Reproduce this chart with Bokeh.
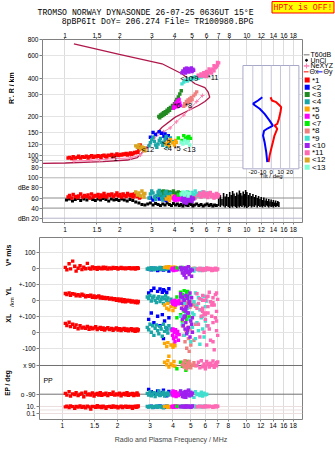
import numpy as np
from bokeh.plotting import figure
from bokeh.layouts import column, row
from bokeh.models import (ColumnDataSource, CustomJSTickFormatter, FixedTicker,
                          Label, LinearScale, LogAxis, LogScale, Range1d, Span)
from bokeh.embed import file_html
from bokeh.resources import INLINE

# ---------------------------------------------------------------- ticks
freq_ticks = [1, 1.5, 2, 3, 4, 5, 6, 7, 8, 10, 12, 14, 16, 18]
height_ticks = [80, 90, 100, 120, 150, 200, 300, 400, 600, 800]
dbe_ticks = [100, 80, 60, 40, 20]
dbe_tick_labels = ["100", "dBe 80", "60", "40", "dBn 20"]
xl_ticks = [-100, 0, 100, 200, 300, 400, 500]
xl_tick_labels = ["-100", "0", "+-100", "0", "+-100", "0", "100"]
pp_ticks = [90, -90]
pp_tick_labels = ["x 90", "o -90"]
ep_ticks = [10, 0.1]
ep_tick_labels = ["10.", "0.1"]
tilt_ticks = [-20, -10, 0, 10, 20]

# ---------------------------------------------------------------- echo groups
group_names = ["*1", "<2", "<3", "<4", "*5", "*6", "<7", "*8", "*9", "<10", "*11", "<12", "<13"]
group_colors = ["#ff0000", "#0000ff", "#228b22", "#1aa6a6", "#ffa500", "#ff00ff", "#00ee00",
                "#f08080", "#40e0d0", "#a020f0", "#ff69b4", "#daa520", "#7fffd4"]

# group *1 (E-region O trace)
e1_f = [1.04, 1.06, 1.09, 1.11, 1.14, 1.17, 1.19, 1.22, 1.25, 1.28, 1.31, 1.34, 1.37, 1.40, 1.43, 1.46,
        1.49, 1.52, 1.55, 1.58, 1.61, 1.64, 1.67, 1.70, 1.73, 1.77, 1.81, 1.85, 1.89, 1.93, 1.97, 2.01,
        2.05, 2.09, 2.13, 2.17, 2.21, 2.25, 2.29, 2.33, 2.37, 2.41, 2.45, 2.49, 2.52, 2.55, 2.57, 2.59]
e1_h = [95, 96, 94, 97, 95, 96, 98, 95, 97, 96, 98, 95, 97, 99, 96, 98, 97, 99, 98, 96, 99, 100, 98, 97,
        100, 99, 101, 98, 100, 102, 99, 101, 100, 102, 101, 103, 100, 102, 104, 101, 103, 105, 104, 106,
        105, 110, 114, 120]
e1_db = [62, 65, 60, 67, 63, 61, 64, 68, 62, 65, 63, 66, 60, 68, 62, 65, 64, 67, 61, 66, 63, 69, 64, 62,
         67, 65, 68, 63, 66, 70, 64, 67, 62, 68, 65, 63, 69, 66, 64, 67, 62, 68, 65, 63, 66, 64, 60, 62]
e1_v = [5, -10, 28, -4, 44, 12, -18, 0, 15, -8, 6, -3, 30, 0, -6, 8, -2, 3, -7, 5, 0, -4, 7, -2,
        4, -6, 2, -3, 5, -1, 3, -5, 0, 4, -2, 1, -4, 2, -1, 3, -3, 0, 2, -5, 1, -2, 3, -1]
e1_yl = [42, 36, 46, 30, 40, 38, 28, 34, 26, 37, 31, 22, 28, 24, 32, 18, 26, 16, 22, 27, 14, 20, 12, 17,
         10, 15, 7, 12, 4, 10, 0, 8, -4, 6, -8, 3, -10, 0, -6, -2, -12, -4, -9, -14, -6, -10, -16, -8]
e1_xl = [55, 42, 62, 36, 50, 30, 46, 22, 40, 26, 32, 24, 36, 18, 30, 22, 26, 34, 16, 24, 30, 18, 26, 14,
         22, 28, 16, 24, 12, 20, 26, 14, 22, 10, 18, 24, 12, 20, 8, 16, 22, 10, 18, 6, 14, 20, 9, 15]
e1_pp = [-85, -96, -74, -102, -88, -92, -80, -98, -90, -84, -106, -78, -93, -88, -96, -82, -101, -90,
         -86, -95, -80, -97, -89, -92, -84, -99, -87, -91, -77, -96, -88, -93, -83, -100, -90, -86,
         -94, -81, -97, -89, -92, -85, -99, -88, -94, -82, -90, -96]
e1_ep = [8, 12, 5, 15, 9, 3, 11, 7, 14, 6, 10, 4, 13, 8, 2, 11, 9, 6, 16, 7, 10, 5, 12, 8,
         3, 9, 11, 6, 14, 7, 10, 4, 8, 12, 5, 9, 13, 6, 10, 7, 11, 3, 9, 12, 6, 10, 8, 14]

# group <2
e2_f = [2.95, 3.05, 3.15, 3.3, 3.4, 3.5, 3.55, 3.6, 3.7, 3.8]
e2_h = [138, 150, 145, 152, 148, 140, 146, 135, 142, 130]
e2_db = [60, 56, 62, 58, 64, 57, 61, 55, 59, 63]
e2_v = [-5, -10, 0, -15, -8, 3, -12, -3, -6, -18]
e2_yl = [45, 60, 75, 55, 70, 50, 65, 58, 48, 72]
e2_xl = [80, 120, 60, 100, 40, 110, -40, 70, 20, 90]
e2_pp = [-60, -75, -85, -70, -95, -80, -65, -90, -100, -72]
e2_ep = [9, 12, 7, 10, 14, 8, 11, 6, 13, 9]

# group <3
e3_f = [3.28, 3.32, 3.35, 3.38, 3.42, 3.45, 3.48, 3.52, 3.56, 3.6, 3.64, 3.68, 3.72, 3.76, 3.8, 3.85,
        3.9, 3.95, 4.0, 4.06, 4.12, 4.2, 4.28, 4.36]
e3_h = [200, 196, 206, 201, 210, 204, 214, 208, 218, 212, 224, 218, 230, 224, 236, 232, 244, 240, 252,
        262, 272, 285, 300, 318]
e3_db = [70, 66, 73, 68, 72, 65, 74, 69, 71, 67, 73, 70, 68, 72, 66, 69, 71, 74, 67, 70, 65, 72, 68, 70]

# group <4
e4_f = [2.9, 2.95, 3.0, 3.05, 3.1, 3.15, 3.2, 3.25, 3.3, 3.35, 3.4, 3.45, 3.5, 3.55, 3.6, 3.65, 3.7,
        3.75, 3.8, 3.9]
e4_h = [118, 125, 132, 138, 128, 120, 115, 122, 130, 135, 126, 119, 124, 133, 140, 116, 121, 128, 136, 127]
e4_db = [60, 68, 74, 70, 62, 57, 65, 72, 75, 68, 60, 56, 63, 70, 73, 66, 58, 62, 69, 64]
e4_v = [-5, 0, -8, 3, -3, -10, 2, -6, 0, -4, 5, -7, 1, -2, -9, 4, -5, -1, 3, -3]
e4_yl = [20, 10, 30, -5, 15, 25, 0, -15, 12, 22, -8, 5, 18, -20, 8, 28, -2, 14, -12, 6]
e4_xl = [30, 15, 50, 0, 40, -20, 25, 45, 10, -10, 35, 20, -25, 50, 5, 30, 15, -5, 40, 20]
e4_pp = [-85, -95, -75, -100, -90, -80, -105, -88, -92, -70, -98, -84, -90, -78, -102, -86, -94, -82, -96, -88]
e4_ep = [10, 7, 13, 9, 5, 11, 8, 14, 6, 10, 12, 7, 9, 4, 11, 8, 13, 10, 6, 9]

# group *5
e5_f = [3.6, 3.7, 3.75, 3.8, 3.9, 4.0, 4.05, 4.1]
e5_h = [122, 128, 118, 132, 125, 120, 130, 126]
e5_db = [58, 62, 55, 60, 64, 57, 61, 59]
e5_v = [5, 8, 2, 10, 4, 6, 0, 7]
e5_yl = [-30, -50, -20, -60, -40, -65, -35, -45]
e5_xl = [-70, -90, -65, -150, -80, -95, -75, -85]
e5_pp = [110, 95, 120, 80, 100, 90, 115, 85]
e5_ep = [9, 12, 6, 10, 8, 11, 7, 13]

# group *6
e6_f = [3.95, 3.98, 4.0, 4.03, 4.06, 4.1, 4.13, 4.16, 4.2, 4.24, 4.28, 4.32]
e6_h = [232, 240, 236, 250, 245, 258, 238, 265, 248, 272, 255, 244]
e6_db = [60, 57, 63, 55, 61, 58, 64, 56, 62, 59, 57, 60]
e6_v = [-5, -10, 0, -15, -3, -8, 2, -12, -6, -2, -9, -4]
e6_yl = [-10, -20, -5, -25, -15, 0, -30, -12, -18, -8, -22, -3]
e6_xl = [10, -20, 20, -40, 0, -60, 15, -30, -10, 5, -50, -15]
e6_pp = [-80, -95, -70, -100, -88, -92, -75, -105, -85, -90, -98, -82]
e6_ep = [10, 8, 12, 6, 11, 9, 14, 7, 10, 13, 8, 11]

# group <7
e7_f = [4.2, 4.4, 4.5, 4.6, 4.7, 4.75, 4.8, 4.9]
e7_h = [136, 130, 142, 134, 138, 131, 140, 135]
e7_db = [66, 70, 62, 68, 64, 71, 65, 67]
e7_v = [2, -4, 5, -2, 0, 3, -6, 1]
e7_yl = [20, 50, 35, 60, 25, 45, 55, 30]
e7_xl = [90, 110, 70, 130, 100, 80, 120, 95]
e7_pp = [70, 110, 85, 100, 60, 95, 115, 80]
e7_ep = [12, 9, 14, 10, 7, 11, 13, 8]

# group *8
e8_f = [4.5, 4.55, 4.6, 4.65, 4.7, 4.75, 4.8, 4.85, 4.9, 4.95, 5.0, 5.1, 5.2, 5.3]
e8_h = [240, 252, 246, 262, 255, 270, 258, 275, 265, 282, 272, 290, 300, 312]
e8_db = [64, 60, 67, 58, 62, 65, 59, 63, 61, 66, 57, 62, 60, 64]
e8_v = [-5, -25, 0, -10, -30, 5, -8, -15, 2, -20, -3, -12, 0, -6]
e8_yl = [-10, -30, -5, -40, -20, -15, -35, 0, -25, -45, -8, -28, -18, -38]
e8_xl = [40, -20, 60, -60, 10, -100, 30, -40, -120, 20, -80, 0, -50, 50]
e8_pp = [95, 110, 80, 120, 90, 70, 105, 85, 115, 100, 75, 92, 108, 88]
e8_ep = [11, 8, 13, 9, 12, 7, 10, 14, 9, 11, 6, 12, 10, 8]

# group *9
e9_f = [4.4, 4.5, 4.6, 4.7, 4.8, 4.9, 5.0, 5.1, 5.2, 5.3, 5.4, 5.5, 5.6, 5.7, 5.8, 5.9, 6.0, 6.1]
e9_h = [360, 372, 385, 378, 395, 388, 402, 395, 410, 404, 398, 415, 408, 420, 412, 425, 418, 430]
e9_db = [66, 70, 63, 72, 68, 65, 71, 67, 74, 69, 64, 70, 66, 72, 68, 65, 70, 67]
e9_v = [-5, -10, 0, -15, -8, -3, -12, -6, -18, -2, -9, -4, -14, -7, -1, -11, -5, -8]
e9_yl = [40, 10, -20, 30, -50, 0, 20, -80, -10, 45, -30, 15, -60, 5, -100, 25, -40, -5]
e9_xl = [100, 50, -20, 120, 0, 80, -60, 30, 110, -40, 60, 10, -75, 90, 20, -30, 70, 40]
e9_pp = [-70, -90, -105, -80, -95, -65, -100, -85, -110, -75, -92, -88, -98, -78, -102, -83, -94, -90]
e9_ep = [10, 13, 7, 11, 9, 12, 6, 10, 14, 8, 11, 9, 12, 7, 10, 13, 8, 11]

# group <10
e10_f = [4.4, 4.45, 4.5, 4.55, 4.6, 4.65, 4.7, 4.75, 4.8, 4.85, 4.9, 4.95, 5.0, 5.05, 5.1, 4.6, 4.7, 4.8]
e10_h = [440, 455, 448, 470, 462, 478, 452, 466, 445, 472, 458, 480, 450, 468, 460, 438, 475, 465]
e10_db = [55, 60, 52, 58, 63, 50, 57, 61, 54, 59, 62, 56, 53, 60, 58, 51, 64, 55]
e10_v = [5, -10, -30, 0, -45, -15, -60, -5, -25, 10, -40, -20, -8, -50, -12, -35, 2, -18]
e10_yl = [40, -20, 20, -60, 0, -100, 30, -40, 10, -80, -10, 45, -30, 15, -110, 5, -50, 25]
e10_xl = [220, 150, 80, 40, 100, 20, 60, -10, 120, 30, 180, -30, 70, 50, 0, 90, 130, 10]
e10_pp = [-70, -90, -105, -80, -95, -75, -110, -85, -92, -65, -100, -88, -78, -96, -83, -108, -72, -90]
e10_ep = [10, 8, 12, 9, 11, 7, 13, 10, 8, 12, 9, 11, 6, 10, 14, 8, 12, 9]

# group *11
e11_f = [5.4, 5.5, 5.6, 5.7, 5.8, 5.9, 6.0, 6.1, 6.2, 6.3, 6.4, 6.5, 6.6, 6.7, 6.8, 6.9, 7.0, 5.8,
         6.2, 6.6, 6.9, 6.0]
e11_h = [420, 412, 430, 418, 440, 425, 450, 432, 445, 460, 438, 470, 455, 480, 490, 505, 525, 415,
         470, 500, 530, 410]
e11_db = [65, 70, 62, 68, 72, 64, 69, 61, 66, 71, 63, 67, 60, 65, 69, 62, 66, 64, 70, 61, 67, 68]
e11_v = [-5, -10, 0, -8, -15, -3, -12, 2, -6, -9, -1, -14, -4, -7, 0, -11, -5, -8, -2, -13, -6, -3]
e11_yl = [40, -20, 10, -60, 30, -90, 0, 20, -40, 50, -10, -100, 15, -30, 35, -70, 5, -50, 25, -15, 45, -80]
e11_xl = [150, 50, -30, 100, 200, 0, 80, -80, 120, 20, -50, 170, 60, -110, 90, 10, -20, 130, 40, -60, 70, 110]
e11_pp = [90, 110, 75, 120, 85, 100, 70, 115, 95, 80, 105, 90, 118, 78, 98, 88, 112, 82, 102, 92, 108, 86]
e11_ep = [10, 8, 12, 9, 11, 7, 13, 10, 8, 12, 9, 11, 6, 10, 14, 8, 12, 9, 11, 7, 10, 13]

# group <12
e12_f = [2.45, 2.5, 2.55, 2.6, 2.65, 2.7, 2.72, 2.75]
e12_h = [118, 115, 120, 112, 116, 110, 114, 108]
e12_db = [72, 66, 70, 64, 74, 68, 62, 69]

# group <13
e13_f = [4.35, 4.45, 4.55, 4.65, 4.75, 4.85]
e13_h = [126, 122, 130, 124, 128, 120]
e13_db = [68, 72, 66, 70, 64, 69]

# unclassified echo amplitudes
unc_f = [1.02, 1.06, 1.1, 1.14, 1.18, 1.22, 1.27, 1.32, 1.37, 1.42, 1.47, 1.52, 1.57, 1.62, 1.68, 1.74,
         1.8, 1.86, 1.92, 1.98, 2.05, 2.12, 2.2, 2.28, 2.36, 2.45, 2.55, 2.65, 2.75, 2.85, 2.95, 3.05,
         3.15, 3.25, 3.35, 3.45, 3.55, 3.65, 3.75, 3.85, 3.95, 4.05, 4.15, 4.25, 4.35, 4.45, 4.55, 4.65,
         4.75, 4.85, 4.95, 5.05, 5.15, 5.3, 5.45, 5.6, 5.75, 5.9, 6.05, 6.2, 6.35, 6.5, 6.65, 6.8]
unc_db = [56, 58, 54, 57, 59, 55, 58, 56, 60, 57, 55, 58, 56, 59, 57, 54, 58, 56, 57, 55, 58, 56, 54, 57,
          55, 52, 50, 47, 46, 48, 50, 46, 49, 47, 45, 48, 46, 50, 47, 45, 49, 46, 48, 45, 47, 44, 48, 46,
          45, 49, 47, 44, 46, 48, 45, 47, 44, 46, 48, 45, 47, 44, 46, 45]

# noise amplitude bursts above the highest echo
spk_f = [7.0, 7.15, 7.3, 7.45, 7.6, 7.75, 7.9, 8.05, 8.2, 8.35, 8.5, 8.65, 8.8, 8.95, 9.1, 9.25, 9.4, 9.55,
         9.7, 9.85, 10.0, 10.2, 10.4, 10.6, 10.8, 11.0, 11.2, 11.4, 11.6, 11.8, 12.0, 12.2, 12.4, 12.6,
         12.8, 13.0, 13.2, 13.4, 13.6, 13.8, 14.0, 14.2, 14.4, 14.6, 14.8, 15.0]
spk_top = [60, 66, 58, 70, 63, 68, 62, 72, 66, 74, 69, 64, 71, 67, 75, 70, 65, 73, 68, 76, 72, 66, 70, 64,
           68, 62, 66, 60, 64, 58, 62, 56, 61, 55, 59, 54, 58, 53, 57, 52, 56, 51, 55, 50, 54, 52]
spk_bot = [44, 42, 45, 43, 41, 44, 42, 40, 43, 41, 44, 42, 40, 43, 41, 44, 42, 45, 41, 43, 40, 42, 44, 41,
           43, 42, 45, 41, 44, 42, 43, 41, 44, 42, 45, 43, 41, 44, 42, 43, 41, 44, 42, 43, 44, 42]

# true-height profile and NeXYZ profile
prof_f = [0.758, 1.004, 1.615, 2.21, 2.50, 2.73, 2.94, 3.10, 3.42, 4.04, 4.77, 5.42, 5.88, 6.25, 6.13,
          5.88, 5.19, 4.39, 3.42, 1.99, 1.12]
prof_h = [86, 86.7, 89, 91.5, 95.7, 108.6, 125, 142, 165, 198, 223, 244, 262, 283, 310, 336, 361, 432,
          517, 611, 740]
ne_f = [1.12, 1.39, 1.55, 1.68, 2.29, 2.6, 2.85, 3.1, 3.48, 3.79, 4.1, 4.5, 4.9, 5.3, 5.7]
ne_h = [90, 91, 92, 93, 95, 100, 116, 136, 152, 163, 182, 205, 232, 262, 292]

# tilt profiles (deg vs height km)
tiltx_deg = [-0.75, 0.75, 5.4, 8.9, 10.8, 10, 8.3, 6.5, 3.5, 5.4, 6.5, 3.5, 1.8, 0, -1.8, -2.9]
tiltx_h = [283, 267, 259, 245, 237, 216, 192, 175, 170, 165, 160, 142, 126, 112, 99, 88]
tilty_deg = [-9.7, -14.3, -19.7, -17.9, -12.5, -7.2, -1.8, 1.8, -3.6, -7.8, -8.9, -7.2, -5.4, -4.3]
tilty_h = [283, 267, 252, 245, 230, 210, 186, 170, 162, 155, 142, 126, 105, 88]

# trace label anchors (MHz, km)
trace_labels = ["*1", "<12", "<2", "<4", "*5", "<13", "*6", "*8", "<10", "*9", "*11"]
trace_label_f = [1.78, 2.63, 3.42, 3.48, 3.96, 4.45, 3.96, 4.57, 4.30, 4.95, 6.10]
trace_label_h = [94, 110, 126, 112, 113, 110, 245, 245, 400, 400, 404]

groups = [
    (e1_f, e1_h, e1_db, e1_v, e1_yl, e1_xl, e1_pp, e1_ep),
    (e2_f, e2_h, e2_db, e2_v, e2_yl, e2_xl, e2_pp, e2_ep),
    (e3_f, e3_h, e3_db, None, None, None, None, None),
    (e4_f, e4_h, e4_db, e4_v, e4_yl, e4_xl, e4_pp, e4_ep),
    (e5_f, e5_h, e5_db, e5_v, e5_yl, e5_xl, e5_pp, e5_ep),
    (e6_f, e6_h, e6_db, e6_v, e6_yl, e6_xl, e6_pp, e6_ep),
    (e7_f, e7_h, e7_db, e7_v, e7_yl, e7_xl, e7_pp, e7_ep),
    (e8_f, e8_h, e8_db, e8_v, e8_yl, e8_xl, e8_pp, e8_ep),
    (e9_f, e9_h, e9_db, e9_v, e9_yl, e9_xl, e9_pp, e9_ep),
    (e10_f, e10_h, e10_db, e10_v, e10_yl, e10_xl, e10_pp, e10_ep),
    (e11_f, e11_h, e11_db, e11_v, e11_yl, e11_xl, e11_pp, e11_ep),
    (e12_f, e12_h, e12_db, None, None, None, None, None),
    (e13_f, e13_h, e13_db, None, None, None, None, None),
]

FONT = "Liberation Sans"
MONO = "Liberation Mono"
FRAME = "#808080"
GRID = "#dcdcdc"

# value ranges of the two frames
F_LO, F_HI = 0.7526, 20.23
H_LO, H_HI = 29.73, 800
DB_LO, DB_HI = 11.5, 373.9
XL_LO, XL_HI = -545.6, 591.9
PP_LO, PP_HI = -248.7, 892.8
EP_LO, EP_HI = 0.00193, 1.93e49


def lin_frac(v, lo, hi):
    return (v - lo) / (hi - lo)


def log_frac(v, lo, hi):
    return (np.log10(v) - np.log10(lo)) / (np.log10(hi) - np.log10(lo))


def db_on_height_axis(db):
    """Position of an amplitude value expressed on the shared height axis."""
    return float(10 ** (np.log10(H_LO) + lin_frac(db, DB_LO, DB_HI) * np.log10(H_HI / H_LO)))


def pp_on_xl_axis(pp):
    return float(XL_LO + lin_frac(pp, PP_LO, PP_HI) * (XL_HI - XL_LO))


def ep_on_xl_axis(ep):
    return float(XL_LO + log_frac(ep, EP_LO, EP_HI) * (XL_HI - XL_LO))


def echo_source(f, h, db, v, yl, xl, pp, ep):
    n = len(f)

    def col(a):
        return np.full(n, np.nan) if a is None else np.asarray(a, dtype=float)

    return ColumnDataSource(dict(f=f, h=h, db=db, v=col(v), yl=col(yl), xl=col(xl),
                                 pp=col(pp), ep=col(ep)))


def label(p, x, y, text, size="7px", align="left", angle=0.0, color="black", font=FONT,
          style="normal", xr="default", yr="default"):
    p.add_layout(Label(x=x, y=y, x_range_name=xr, y_range_name=yr, text=text,
                       text_font=font, text_font_size=size, text_align=align,
                       text_baseline="middle", angle=angle, text_color=color,
                       text_font_style=style))


def style_axis(ax, ticks, fmt=None, overrides=None, tick_out=3, standoff=1):
    ax.ticker = FixedTicker(ticks=ticks)
    if fmt is not None:
        ax.formatter = fmt
    if overrides is not None:
        ax.major_label_overrides = overrides
    ax.major_label_text_font = FONT
    ax.major_label_text_font_size = "6.5px"
    ax.major_label_text_color = "black"
    ax.axis_line_color = None
    ax.major_tick_line_color = FRAME
    ax.major_tick_out = tick_out
    ax.major_tick_in = 0
    ax.minor_tick_line_color = None
    ax.major_label_standoff = standoff


def strip(width, height, x0, x1, y_bottom, y_top):
    """Margin strip whose coordinates are page pixels."""
    s = figure(width=width, height=height, x_range=Range1d(x0, x1),
               y_range=Range1d(y_bottom, y_top), output_backend="svg",
               toolbar_location=None, min_border=0,
               x_axis_location=None, y_axis_location=None)
    s.outline_line_color = None
    s.grid.visible = False
    s.background_fill_color = "white"
    s.border_fill_color = "white"
    return s


num_fmt = CustomJSTickFormatter(code="return String(tick);")
sources = [echo_source(*g) for g in groups]

# ======================================================= header
header = strip(335, 26, 0, 335, 26, 0)
label(header, 150, 12, "TROMSO NORWAY   DYNASONDE 26-07-25 0636UT 15\u00b0E", size="8.2px",
      align="center", font=MONO)
label(header, 157, 20.5, "8pBP6It DoY= 206.274 File= TR100980.BPG", size="8.2px",
      align="center", font=MONO)
header.quad(left=[271.5], right=[333.5], bottom=[12.5], top=[1.0],
            fill_color="#ffff00", line_color="#ff0000", line_width=1)
label(header, 302.5, 7, "HPTx is OFF!", size="8.2px", align="center", font=MONO, color="#ff0000")

# ======================================================= upper panel: R' and amplitude
p1 = figure(width=289, height=211, x_axis_type="log", y_axis_type="log",
            x_range=Range1d(F_LO, F_HI), y_range=Range1d(H_LO, H_HI),
            output_backend="svg", toolbar_location=None,
            min_border_left=25, min_border_right=1, min_border_top=13, min_border_bottom=15)
p1.extra_x_ranges = {"tilt": Range1d(-248.1, 33.9)}
p1.extra_x_scales = {"tilt": LinearScale()}
p1.extra_y_ranges = {"dbe": Range1d(DB_LO, DB_HI)}
p1.extra_y_scales = {"dbe": LinearScale()}
p1.outline_line_color = FRAME
p1.background_fill_color = "white"
p1.border_fill_color = "white"

style_axis(p1.xaxis[0], freq_ticks, num_fmt, tick_out=2, standoff=2)
dbe_pos = [db_on_height_axis(d) for d in dbe_ticks]
style_axis(p1.yaxis[0], height_ticks + dbe_pos, num_fmt,
           overrides=dict(zip(dbe_pos, dbe_tick_labels)))
top_axis = LogAxis()
style_axis(top_axis, freq_ticks, num_fmt, tick_out=2, standoff=0)
p1.add_layout(top_axis, "above")

p1.xgrid.ticker = FixedTicker(ticks=freq_ticks)
p1.ygrid.ticker = FixedTicker(ticks=height_ticks)
p1.xgrid.grid_line_color = GRID
p1.ygrid.grid_line_color = "#e4e4e4"

for lvl, colr in [(100, "#b4b4b4"), (60, "#8c8c8c"), (40, "#8c8c8c"), (20, "#b4b4c8")]:
    p1.add_layout(Span(location=lvl, dimension="width", y_range_name="dbe",
                       line_color=colr, line_width=1, level="underlay"))

# profiles
p1.line(prof_f, prof_h, line_color="#b0184a", line_width=1.3)
p1.line(ne_f, ne_h, line_color="#ff80b0", line_width=1)
p1.scatter(ne_f, ne_h, marker="cross", size=4, line_color="#ff80b0", line_width=1)

# echoes (R') and amplitudes
p1.scatter(unc_f, unc_db, y_range_name="dbe", marker="square", size=3,
           fill_color="black", line_color=None)
p1.segment(x0=spk_f, x1=spk_f, y0=spk_bot, y1=spk_top, y_range_name="dbe",
           line_color="black", line_width=1.6)
for src, colr in zip(sources, group_colors):
    p1.scatter("f", "h", source=src, marker="square", size=3.4, fill_color=colr, line_color=None)
    p1.scatter("f", "db", source=src, y_range_name="dbe", marker="square", size=3.4,
               fill_color=colr, line_color=None)

for txt, lf, lh in zip(trace_labels, trace_label_f, trace_label_h):
    label(p1, lf, lh, txt, size="7.5px")

# tilt inset
p1.quad(left=[-30.7], right=[30.0], bottom=[78.1], top=[501], x_range_name="tilt",
        fill_color="white", line_color="#a8a8c8", line_width=1)
p1.segment(x0=tilt_ticks, x1=tilt_ticks, y0=[78.1] * 5, y1=[501] * 5, x_range_name="tilt",
           line_color="#c4c4d8", line_width=1)
p1.line(tiltx_deg, tiltx_h, x_range_name="tilt", line_color="#ff0000", line_width=2)
p1.line(tilty_deg, tilty_h, x_range_name="tilt", line_color="#0000ff", line_width=2)
for t in tilt_ticks:
    label(p1, t, 74.3, str(t), size="6px", align="center", xr="tilt")
label(p1, 0, 68.8, "Tilt / deg", size="6px", align="center", xr="tilt")

# left margin of the upper panel
left1 = strip(14, 211, 0, 14, 237, 26)
label(left1, 10.5, 82, "R', R / km", size="7px", align="center", angle=np.pi / 2, style="bold")

# legend strip
leg = strip(32, 211, 303, 335, 237, 26)
leg.segment(x0=[303], x1=[309], y0=[43.7], y1=[43.7], line_color="#a0a0a0", line_width=1.5)
label(leg, 310, 43.7, "T60dB")
leg.scatter([306], [50], marker="circle", size=2, fill_color="black", line_color="black")
label(leg, 310, 50, "UnCl")
leg.segment(x0=[303], x1=[309], y0=[56.5], y1=[56.5], line_color="#ff80b0", line_width=1)
leg.scatter([306], [56.5], marker="cross", size=5, line_color="#ff80b0")
label(leg, 310, 56.5, "NeXYZ")
leg.segment(x0=[303], x1=[308], y0=[63.3], y1=[63.3], line_color="#ff0000", line_width=1)
label(leg, 309, 63.3, "\u0398x")
leg.segment(x0=[317], x1=[322], y0=[63.3], y1=[63.3], line_color="#0000ff", line_width=1)
label(leg, 323, 63.3, "\u0398y")
leg_y = [72.7 + 8.38 * k for k in range(len(group_names))]
leg.scatter([306.7] * len(group_names), leg_y, marker="square", size=5,
            fill_color=group_colors, line_color=None)
for name, yy in zip(group_names, leg_y):
    label(leg, 311.5, yy, name, size="8px")

# ======================================================= lower panel: V, YL, XL, PP, EP
p2 = figure(width=289, height=214, x_axis_type="log",
            x_range=Range1d(F_LO, F_HI), y_range=Range1d(XL_LO, XL_HI),
            output_backend="svg", toolbar_location=None,
            min_border_left=25, min_border_right=1, min_border_top=0, min_border_bottom=32)
p2.extra_y_ranges = {"v": Range1d(XL_LO - 400, XL_HI - 400), "yl": Range1d(XL_LO - 200, XL_HI - 200),
                     "pp": Range1d(PP_LO, PP_HI), "ep": Range1d(EP_LO, EP_HI)}
p2.extra_y_scales = {"v": LinearScale(), "yl": LinearScale(), "pp": LinearScale(),
                     "ep": LogScale()}
p2.outline_line_color = FRAME
p2.background_fill_color = "white"
p2.border_fill_color = "white"

style_axis(p2.xaxis[0], freq_ticks, num_fmt, tick_out=2, standoff=1)
p2.xaxis.axis_label = "Radio and Plasma Frequency / MHz"
p2.xaxis.axis_label_text_font = FONT
p2.xaxis.axis_label_text_font_size = "7px"
p2.xaxis.axis_label_text_font_style = "normal"
p2.xaxis.axis_label_standoff = 5
side_pos = [pp_on_xl_axis(v) for v in pp_ticks] + [ep_on_xl_axis(v) for v in ep_ticks]
side_labels = pp_tick_labels + ep_tick_labels
overrides2 = dict(zip(xl_ticks, xl_tick_labels))
overrides2.update(dict(zip(side_pos, side_labels)))
style_axis(p2.yaxis[0], xl_ticks + side_pos, overrides=overrides2)

p2.xgrid.ticker = FixedTicker(ticks=freq_ticks)
p2.ygrid.ticker = FixedTicker(ticks=xl_ticks)
p2.xgrid.grid_line_color = GRID
p2.ygrid.grid_line_color = "#e4e4e4"

for lvl in pp_ticks:
    p2.add_layout(Span(location=lvl, dimension="width", y_range_name="pp",
                       line_color="#707070", line_width=1, level="underlay"))
for lvl in (10, 1, 0.1):
    p2.add_layout(Span(location=lvl, dimension="width", y_range_name="ep",
                       line_color="#ecdede", line_width=1, level="underlay"))

for src, colr in zip(sources, group_colors):
    for field, rng in (("v", "v"), ("yl", "yl"), ("xl", "default"), ("pp", "pp"), ("ep", "ep")):
        p2.scatter("f", field, source=src, y_range_name=rng, marker="square", size=3.4,
                   fill_color=colr, line_color=None)

label(p2, 0.79, -4, "PP", yr="pp")

# left margin of the lower panel
left2 = strip(14, 214, 0, 14, 451, 237)
label(left2, 8, 258, "V* m/s", align="center", angle=np.pi / 2, style="bold")
label(left2, 8, 300, "YL", align="center", angle=np.pi / 2, style="bold")
label(left2, 11.5, 313, "/km", size="6px", align="center", angle=np.pi / 2)
label(left2, 8, 332, "XL", align="center", angle=np.pi / 2, style="bold")
label(left2, 7, 408, "EP / deg", size="6.5px", align="center", angle=np.pi / 2, style="bold")

right2 = strip(32, 214, 303, 335, 451, 237)

layout = column(header,
                row(left1, p1, leg, spacing=0),
                row(left2, p2, right2, spacing=0),
                spacing=0)
open("out.html", "w").write(file_html(layout, INLINE, "Dynasonde ionogram"))
